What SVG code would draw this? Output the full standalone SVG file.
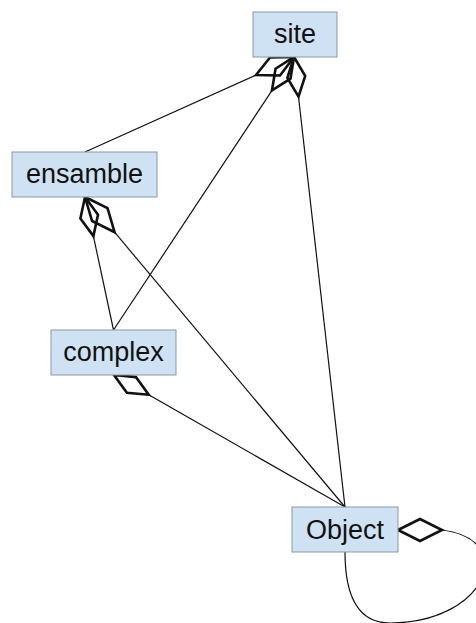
<svg xmlns="http://www.w3.org/2000/svg" width="476" height="623" viewBox="0 0 476 623">
<style>
.box{fill:#cfe2f3;stroke:#8a97a3;stroke-width:1}
.lbl{font-family:"Liberation Sans",Arial,sans-serif;font-size:27px;fill:#111;text-anchor:middle}
.ln{fill:none;stroke:#111;stroke-width:1.2}
.dm{fill:none;stroke:#111;stroke-width:2.6;stroke-linejoin:miter}
</style>
<rect width="476" height="623" fill="#fff"/>
<g id="connectors">
<path class="ln" d="M85,152 L256,75"/>
<polygon class="dm" points="294,57 280,75.5 256,75 270,57.5"/>
<path class="ln" d="M113.5,330 L272,90.4"/>
<polygon class="dm" points="294,57 290.5,78.7 272,90.4 275.5,68.7"/>
<path class="ln" d="M345,507 L298.5,96.7"/>
<polygon class="dm" points="294,57 305.2,75.9 298.5,96.7 287.4,77.9"/>
<path class="ln" d="M113.5,330 L93.4,236.1"/>
<polygon class="dm" points="85,197 98,214.7 93.4,236.1 80.4,218.5"/>
<path class="ln" d="M345,507 L114.6,232.2"/>
<polygon class="dm" points="85,197 107.5,208.2 114.6,232.2 92.1,221"/>
<path class="ln" d="M345,507 L148.7,394.8"/>
<polygon class="dm" points="114,375 135.9,377.1 148.7,394.8 126.9,392.7"/>
<path class="ln" d="M442,530 C520,540 485,623 390,623 C355,623 345,590 345,552"/>
<polygon class="dm" points="398,530 420,519 442,530 420,541"/>
</g>
<g id="site"><rect class="box" x="253" y="12" width="84" height="45"/><text class="lbl" x="295" y="43">site</text></g>
<g id="ensamble"><rect class="box" x="12" y="152" width="145" height="45"/><text class="lbl" x="84.5" y="183">ensamble</text></g>
<g id="complex"><rect class="box" x="51" y="330" width="125" height="45"/><text class="lbl" x="113.5" y="361">complex</text></g>
<g id="Object"><rect class="box" x="292" y="507" width="106" height="45"/><text class="lbl" x="345" y="539">Object</text></g>
</svg>
